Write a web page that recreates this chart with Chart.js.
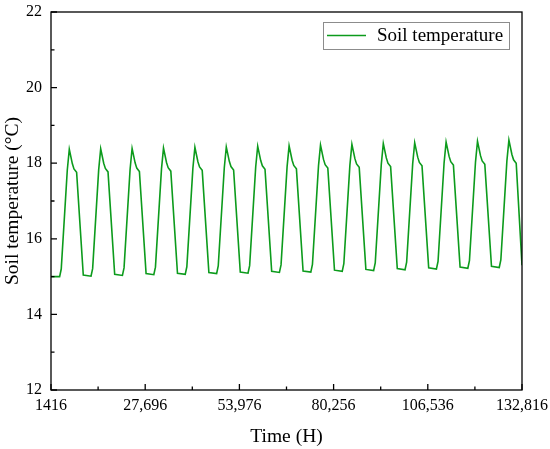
<!DOCTYPE html>
<html lang="en">
<head>
  <meta charset="UTF-8">
  <title>Soil temperature</title>
  <script src="https://cdn.jsdelivr.net/npm/chart.js"></script>
  <style>
    body { margin: 0; padding: 0; background: #fff; }
  </style>
</head>
<body>
<canvas id="soilChart" width="550" height="449"></canvas>
<script>
  // hours (key points of each yearly cycle)
  var timeH = [
    1416,
    3822, 4272, 5962, 6522, 7362, 7822, 8562, 10422,
    12582, 13032, 14722, 15282, 16122, 16582, 17322, 19182,
    21342, 21792, 23482, 24042, 24882, 25342, 26082, 27942,
    30102, 30552, 32242, 32802, 33642, 34102, 34842, 36702,
    38862, 39312, 41002, 41562, 42402, 42862, 43602, 45462,
    47622, 48072, 49762, 50322, 51162, 51622, 52362, 54222,
    56382, 56832, 58522, 59082, 59922, 60382, 61122, 62982,
    65142, 65592, 67282, 67842, 68682, 69142, 69882, 71742,
    73902, 74352, 76042, 76602, 77442, 77902, 78642, 80502,
    82662, 83112, 84802, 85362, 86202, 86662, 87402, 89262,
    91422, 91872, 93562, 94122, 94962, 95422, 96162, 98022,
    100182, 100632, 102322, 102882, 103722, 104182, 104922, 106782,
    108942, 109392, 111082, 111642, 112482, 112942, 113682, 115542,
    117702, 118152, 119842, 120402, 121242, 121702, 122442, 124302,
    126462, 126912, 128602, 129162, 130002, 130462, 131202, 132816
  ];
  // soil temperature, °C
  var soilTemp = [
    15.00,
    15.00, 15.20, 17.82, 18.37, 17.99, 17.85, 17.76, 15.04,
    15.01, 15.21, 17.83, 18.38, 18.00, 17.86, 17.77, 15.06,
    15.03, 15.23, 17.84, 18.39, 18.01, 17.87, 17.78, 15.08,
    15.05, 15.25, 17.85, 18.40, 18.02, 17.88, 17.79, 15.09,
    15.06, 15.26, 17.87, 18.42, 18.04, 17.90, 17.81, 15.11,
    15.08, 15.28, 17.88, 18.43, 18.05, 17.91, 17.82, 15.12,
    15.09, 15.29, 17.90, 18.45, 18.07, 17.93, 17.84, 15.14,
    15.11, 15.31, 17.91, 18.46, 18.08, 17.94, 17.85, 15.15,
    15.12, 15.32, 17.93, 18.48, 18.10, 17.96, 17.87, 15.17,
    15.14, 15.34, 17.95, 18.50, 18.12, 17.98, 17.89, 15.19,
    15.16, 15.36, 17.97, 18.52, 18.14, 18.00, 17.91, 15.21,
    15.18, 15.38, 17.99, 18.54, 18.16, 18.02, 17.93, 15.23,
    15.20, 15.40, 18.01, 18.56, 18.18, 18.04, 17.95, 15.25,
    15.22, 15.42, 18.03, 18.58, 18.20, 18.06, 17.97, 15.27,
    15.24, 15.44, 18.06, 18.61, 18.23, 18.09, 18.00, 15.30
  ];
  var xTicks = [1416, 27696, 53976, 80256, 106536, 132816];
  var xTickLabels = ['1416', '27,696', '53,976', '80,256', '106,536', '132,816'];
  var yTicks = [12, 14, 16, 18, 20, 22];

  var lineColor = '#0c9b1c';
  var serif = "'Liberation Serif', 'DejaVu Serif', serif";

  // frame, inward ticks and the legend box
  var framePlugin = {
    id: 'frame',
    afterDraw: function(chart) {
      var ctx = chart.ctx, a = chart.chartArea;
      var xs = chart.scales.x, ys = chart.scales.y;
      ctx.save();
      ctx.strokeStyle = '#000';
      ctx.lineWidth = 1.3;
      ctx.strokeRect(a.left, a.top, a.right - a.left, a.bottom - a.top);
      ctx.beginPath();
      xTicks.forEach(function(v, i) {
        var px = xs.getPixelForValue(v);
        ctx.moveTo(px, a.bottom); ctx.lineTo(px, a.bottom - 6);
        if (i < xTicks.length - 1) {
          var mx = xs.getPixelForValue((v + xTicks[i + 1]) / 2);
          ctx.moveTo(mx, a.bottom); ctx.lineTo(mx, a.bottom - 3.5);
        }
      });
      yTicks.forEach(function(v, i) {
        var py = ys.getPixelForValue(v);
        ctx.moveTo(a.left, py); ctx.lineTo(a.left + 6, py);
        if (i < yTicks.length - 1) {
          var my = ys.getPixelForValue(v + 1);
          ctx.moveTo(a.left, my); ctx.lineTo(a.left + 3.5, my);
        }
      });
      ctx.stroke();

      // legend
      ctx.strokeStyle = '#8c8c8c';
      ctx.lineWidth = 1;
      ctx.strokeRect(323.5, 22.5, 186, 27);
      ctx.strokeStyle = lineColor;
      ctx.lineWidth = 1.5;
      ctx.beginPath();
      ctx.moveTo(327, 35.5); ctx.lineTo(366, 35.5);
      ctx.stroke();
      ctx.fillStyle = '#000';
      ctx.font = '19px ' + serif;
      ctx.textBaseline = 'middle';
      ctx.fillText(chart.data.datasets[0].label, 377, 36);
      ctx.restore();
    }
  };

  var points = timeH.map(function(t, i) { return { x: t, y: soilTemp[i] }; });

  new Chart(document.getElementById('soilChart').getContext('2d'), {
    type: 'line',
    data: {
      datasets: [{
        label: 'Soil temperature',
        data: points,
        borderColor: lineColor,
        borderWidth: 1.6,
        pointRadius: 0,
        fill: false,
        tension: 0
      }]
    },
    options: {
      responsive: false,
      animation: false,
      devicePixelRatio: 1,
      layout: { padding: { left: 0, right: 28, top: 12, bottom: 0 } },
      plugins: { legend: { display: false }, tooltip: { enabled: false } },
      scales: {
        x: {
          type: 'linear',
          min: 1416,
          max: 132816,
          afterBuildTicks: function(s) { s.ticks = xTicks.map(function(v) { return { value: v }; }); },
          afterFit: function(s) { s.height = 59; s.paddingLeft = 0; s.paddingRight = 0; },
          grid: { display: false, drawTicks: false },
          border: { display: false },
          ticks: {
            padding: 6,
            maxRotation: 0,
            autoSkip: false,
            color: '#000',
            font: { family: serif, size: 16 },
            callback: function(v) { return xTickLabels[xTicks.indexOf(v)]; }
          },
          title: {
            display: true,
            text: 'Time (H)',
            color: '#000',
            font: { family: serif, size: 19.5 },
            padding: { top: 6, bottom: 0 }
          }
        },
        y: {
          min: 12,
          max: 22,
          afterBuildTicks: function(s) { s.ticks = yTicks.map(function(v) { return { value: v }; }); },
          afterFit: function(s) { s.width = 51; s.paddingTop = 0; s.paddingBottom = 0; },
          grid: { display: false, drawTicks: false },
          border: { display: false },
          ticks: {
            padding: 9,
            color: '#000',
            font: { family: serif, size: 16 }
          },
          title: {
            display: true,
            text: 'Soil temperature (°C)',
            color: '#000',
            font: { family: serif, size: 19.5 },
            padding: { top: 1, bottom: 4 }
          }
        }
      }
    },
    plugins: [framePlugin]
  });
</script>
</body>
</html>
